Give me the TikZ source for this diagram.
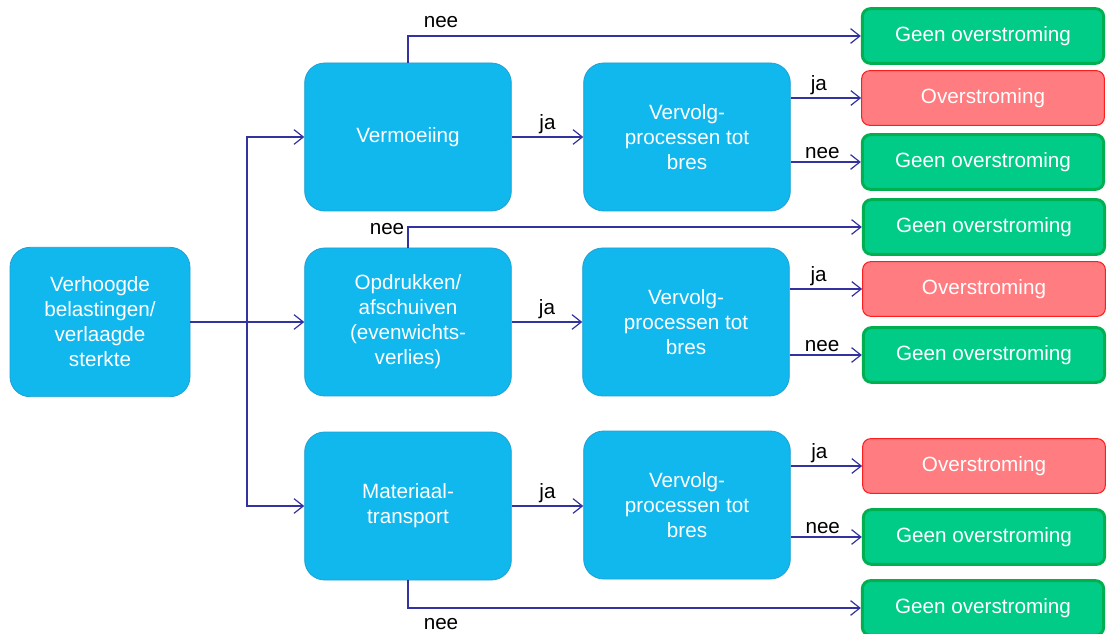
\documentclass[tikz,border=0pt]{standalone}
\usepackage{fontspec}
\setmainfont{Liberation Sans}
\usepackage{xcolor}
\usetikzlibrary{arrows.meta, positioning}

\definecolor{procblue}{RGB}{16,184,238}
\definecolor{procedge}{RGB}{30,160,210}
\definecolor{geenfill}{RGB}{0,204,136}
\definecolor{geenedge}{RGB}{0,176,80}
\definecolor{overfill}{RGB}{255,124,128}
\definecolor{overedge}{RGB}{255,30,30}
\definecolor{flowblue}{RGB}{50,50,160}

\begin{document}
\begin{tikzpicture}[x=0.75pt, y=-0.75pt,
    font=\fontsize{15.5}{18.75}\selectfont,
    proc/.style={draw=procedge, fill=procblue, rounded corners=15pt,
        text=white, align=center, minimum width=155pt, minimum height=111pt, line width=0.6pt},
    geen/.style={draw=geenedge, fill=geenfill, rounded corners=6pt, text=white,
        text height=1.2em, minimum width=181pt, minimum height=41pt, line width=2.2pt},
    over/.style={draw=overedge, fill=overfill, rounded corners=6pt, text=white,
        text height=1.2em, minimum width=182pt, minimum height=41pt, line width=0.8pt},
    flow/.style={draw=flowblue, line width=0.9pt, -{Straight Barb[length=7pt, width=11pt]}},
    lbl/.style={text=black, inner sep=2pt}]

    \useasboundingbox (0,0) rectangle (1110,634);

    % -----------------------------------------------------------------
    % 1. blokken
    % -----------------------------------------------------------------
    \node[proc, minimum width=135pt, minimum height=112pt] (start) at (100,322)
        {Verhoogde\\belastingen/\\verlaagde\\sterkte};

    \node[proc] (verm) at (408,137) {Vermoeiing};
    \node[proc] (opdr) at (408,322) {Opdrukken/\\afschuiven\\(evenwichts-\\verlies)};
    \node[proc] (mat)  at (408,506) {Materiaal-\\transport};

    \node[proc] (verv1) at (687,137) {Vervolg-\\processen tot\\bres};
    \node[proc] (verv2) at (686,322) {Vervolg-\\processen tot\\bres};
    \node[proc] (verv3) at (687,505) {Vervolg-\\processen tot\\bres};

    % -----------------------------------------------------------------
    % 2. uitkomsten
    % -----------------------------------------------------------------
    \node[geen] (g1) at (983,36)  {Geen overstroming};
    \node[over] (o1) at (983,98)  {Overstroming};
    \node[geen] (g2) at (983,162) {Geen overstroming};
    \node[geen] (g3) at (984,227) {Geen overstroming};
    \node[over] (o2) at (984,289) {Overstroming};
    \node[geen] (g4) at (984,355) {Geen overstroming};
    \node[over] (o3) at (984,466) {Overstroming};
    \node[geen] (g5) at (984,537) {Geen overstroming};
    \node[geen] (g6) at (983,608) {Geen overstroming};

    % -----------------------------------------------------------------
    % 3. verbindingen
    % -----------------------------------------------------------------
    \coordinate (split) at (247,322);
    \draw[flowblue, line width=0.9pt] (start.east) -- (split);
    \draw[flow] (split) |- (verm.west);
    \draw[flow] (split) -- (opdr.west);
    \draw[flow] (split) |- (mat.west);

    \draw[flow] (verm.east) -- node[lbl, above] {ja} (verv1.west);
    \draw[flow] (opdr.east) -- node[lbl, above] {ja} (verv2.west);
    \draw[flow] (mat.east)  -- node[lbl, above] {ja} (mat.east -| verv3.west);

    \draw[flow] (verv1.east |- o1.west) -- node[lbl, above, pos=0.4] {ja} (o1.west);
    \draw[flow] (verv1.east |- g2.west) -- node[lbl, above, pos=0.45] {nee} (g2.west);
    \draw[flow] (verv2.east |- o2.west) -- node[lbl, above, pos=0.4] {ja} (o2.west);
    \draw[flow] (verv2.east |- g4.west) -- node[lbl, above, pos=0.45] {nee} (g4.west);
    \draw[flow] (verv3.east |- o3.west) -- node[lbl, above, pos=0.4] {ja} (o3.west);
    \draw[flow] (verv3.east |- g5.west) -- node[lbl, above, pos=0.45] {nee} (g5.west);

    % nee-takken
    \draw[flow] (verm.north) |- (g1.west);
    \node[lbl] (nee1) at (441,22) {nee};
    \draw[flow] (opdr.north) |- (g3.west);
    \node[lbl] (nee2) at (387,229) {nee};
    \draw[flow] (mat.south) |- (g6.west);
    \node[lbl] (nee3) at (441,624) {nee};

\end{tikzpicture}
\end{document}
